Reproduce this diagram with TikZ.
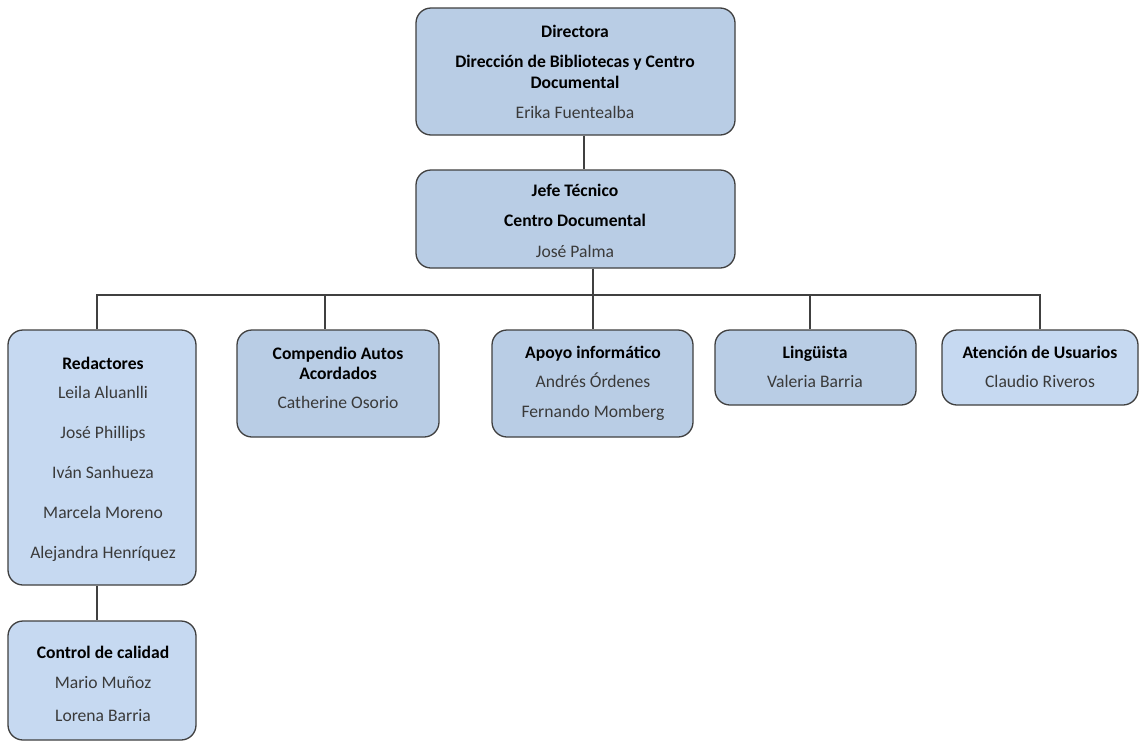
\documentclass[tikz,border=0pt]{standalone}
\usepackage{fontspec}
\setmainfont{Carlito}
\definecolor{boxdark}{HTML}{B9CDE5}
\definecolor{boxlight}{HTML}{C6D9F1}
\definecolor{edge}{HTML}{404040}
\definecolor{nametext}{HTML}{3A3A3A}
\tikzset{
  orgbox/.style={draw=edge, line width=1.3pt, rounded corners=15pt, inner sep=0pt},
  darkbox/.style={orgbox, fill=boxdark},
  lightbox/.style={orgbox, fill=boxlight},
  ttl/.style={font=\fontsize{17.6}{20}\selectfont\bfseries, text=black, inner sep=0pt, text height=15pt, text depth=2pt},
  nm/.style={font=\fontsize{17.6}{20}\selectfont, text=nametext, inner sep=0pt, text height=15pt, text depth=2pt},
  conn/.style={draw=edge, line width=1.2pt}
}
\begin{document}
\begin{tikzpicture}[x=1pt,y=-1pt]
\useasboundingbox (0,0) rectangle (1140,742);
\fill[white] (0,0) rectangle (1140,742);
% boxes
\node[darkbox, minimum width=319pt, minimum height=127pt] (dir) at (575.5,71.5) {};
\node[darkbox, minimum width=319pt, minimum height=98pt] (jefe) at (575.5,219) {};
\node[lightbox, minimum width=188pt, minimum height=255pt] (red) at (102,457.5) {};
\node[darkbox, minimum width=202pt, minimum height=107pt] (comp) at (338,383.5) {};
\node[darkbox, minimum width=201pt, minimum height=107pt] (apoyo) at (592.5,383.5) {};
\node[darkbox, minimum width=201pt, minimum height=75pt] (ling) at (815.5,367.5) {};
\node[lightbox, minimum width=196pt, minimum height=75pt] (aten) at (1040,367.5) {};
\node[lightbox, minimum width=188pt, minimum height=119pt] (ctrl) at (102,680.5) {};
% texts
\node[ttl] (t1) at (575,31) {Directora};
\node[ttl] (t2) at (575,61) {Dirección de Bibliotecas y Centro};
\node[ttl] (t3) at (575,82) {Documental};
\node[nm] (t4) at (575,112) {Erika Fuentealba};
\node[ttl] (t5) at (575,190) {Jefe Técnico};
\node[ttl] (t6) at (575,220) {Centro Documental};
\node[nm] (t7) at (575,251) {José Palma};
\node[ttl] (r1) at (103,363) {Redactores};
\node[nm] (r2) at (103,392) {Leila Aluanlli};
\node[nm] (r3) at (103,432) {José Phillips};
\node[nm] (r4) at (103,472) {Iván Sanhueza};
\node[nm] (r5) at (103,512) {Marcela Moreno};
\node[nm] (r6) at (103,552) {Alejandra Henríquez};
\node[ttl] (c1) at (338,353) {Compendio Autos};
\node[ttl] (c2) at (338,373) {Acordados};
\node[nm] (c3) at (338,402) {Catherine Osorio};
\node[ttl] (a1) at (593,352) {Apoyo informático};
\node[nm] (a2) at (593,381) {Andrés Órdenes};
\node[nm] (a3) at (593,411) {Fernando Momberg};
\node[ttl] (l1) at (815,352) {Lingüista};
\node[nm] (l2) at (815,381) {Valeria Barria};
\node[ttl] (u1) at (1040,352) {Atención de Usuarios};
\node[nm] (u2) at (1040,381) {Claudio Riveros};
\node[ttl] (k1) at (103,652) {Control de calidad};
\node[nm] (k2) at (103,682) {Mario Muñoz};
\node[nm] (k3) at (103,715) {Lorena Barria};
% connectors
\coordinate (b1) at (97,295);
\coordinate (b2) at (325,295);
\coordinate (b3) at (593,295);
\coordinate (b4) at (810,295);
\coordinate (b5) at (1040,295);
\coordinate (dj) at (584,0);
\draw[conn] (dj |- dir.south) -- (dj |- jefe.north);
\draw[conn] (b3 |- jefe.south) -- (b3);
\draw[conn] (b1 |- red.north) -- (b1) -- (b5) -- (b5 |- aten.north);
\draw[conn] (b2) -- (b2 |- comp.north);
\draw[conn] (b3) -- (b3 |- apoyo.north);
\draw[conn] (b4) -- (b4 |- ling.north);
\draw[conn] (b1 |- red.south) -- (b1 |- ctrl.north);
\end{tikzpicture}
\end{document}
